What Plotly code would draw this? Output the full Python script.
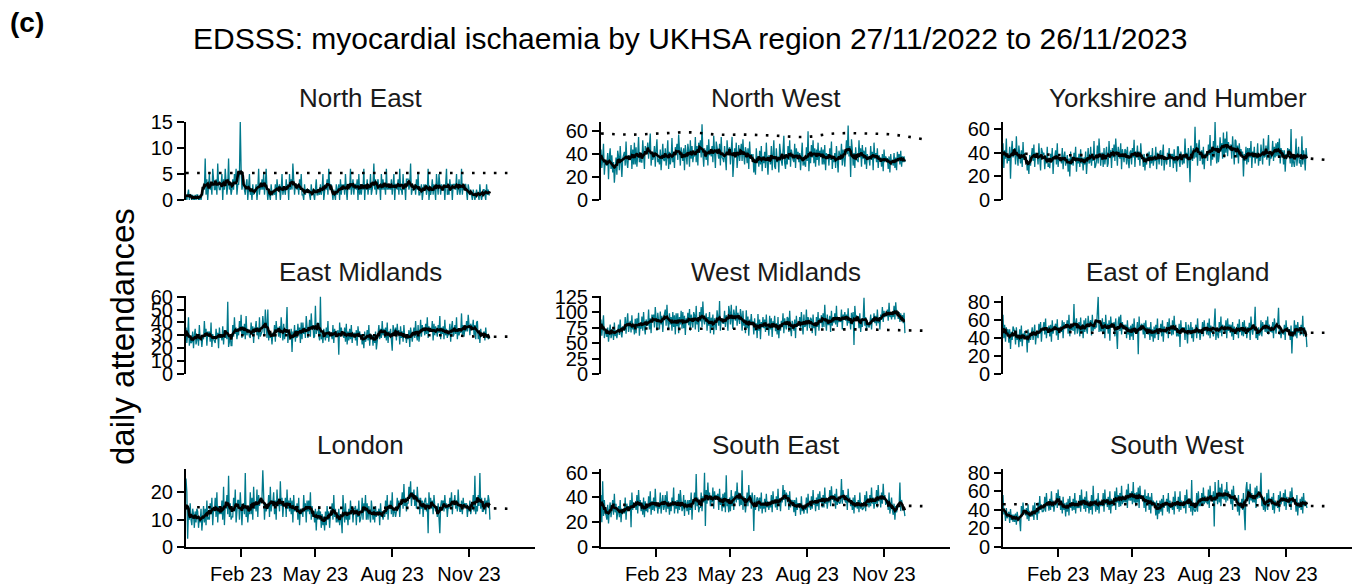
import pandas as pd
import plotly.graph_objects as go

# ---------------- data ----------------
start_date = "2022-11-27"
regions = ["North East", "North West", "Yorkshire and Humber",
           "East Midlands", "West Midlands", "East of England",
           "London", "South East", "South West"]

north_east = [
    1,0,1,2,0,1,1, 0,1,0,0,1,0,1, 1,0,0,1,0,1,1, 3,2,8,1,4,0,2,
    5,2,3,1,6,4,2, 2,4,1,7,3,2,2, 3,5,0,4,2,6,3, 1,3,8,2,3,1,2,
    4,2,5,3,6,1,3, 3,5,15,6,2,3,4, 2,1,3,4,0,2,5, 1,2,0,3,1,2,2,
    3,0,2,6,1,3,2, 4,2,5,1,3,6,2, 0,2,1,0,3,1,1, 2,1,3,0,4,2,2,
    3,0,2,5,1,2,2, 1,4,2,3,0,5,2, 4,2,7,3,1,3,3, 2,3,1,4,2,5,1,
    1,0,3,1,2,2,2, 2,1,0,3,1,2,1, 0,2,4,1,1,2,1, 3,1,2,5,0,2,3,
    2,4,1,6,3,2,3, 1,0,2,1,0,3,1, 2,3,0,4,1,3,2, 3,1,5,2,0,3,3,
    2,6,1,3,4,1,3, 3,2,4,0,5,1,3, 1,3,2,6,0,3,2, 4,1,3,2,5,1,2,
    3,7,2,4,1,3,4, 2,3,0,5,2,4,2, 3,1,6,2,3,2,3, 2,4,1,3,5,0,3,
    3,2,4,1,6,2,2, 1,5,2,3,0,4,4, 4,2,3,7,1,2,2, 2,3,1,4,2,5,1,
    1,2,3,0,2,3,2, 3,1,2,6,0,2,1, 2,4,1,3,2,0,5, 3,1,5,2,1,3,2,
    2,3,0,4,6,1,2, 1,4,2,3,0,3,3, 3,2,5,1,2,4,1, 2,6,1,3,2,3,3,
    1,0,3,2,1,2,1, 0,2,1,0,1,2,1, 1,0,3,1,0,1,2, 2,1,0,3,1,2,1,
    1]

north_west = [
    44,28,36,49,22,33,33, 30,41,18,38,45,27,39, 24,33,15,29,37,22,43, 38,26,47,31,20,36,40,
    42,30,51,33,28,39,36, 35,48,27,44,31,50,31, 46,29,40,55,33,37,33, 33,52,38,27,47,41,42,
    50,36,45,58,30,40,35, 38,47,29,44,53,33,36, 31,44,26,40,49,35,34, 45,30,39,52,27,42,31,
    36,54,33,41,28,46,42, 49,35,57,38,30,46,39, 34,45,26,48,40,31,49, 43,29,52,36,47,33,40,
    38,55,33,47,30,50,41, 52,37,66,41,29,45,38, 35,48,30,53,39,44,38, 47,33,56,40,28,51,46,
    44,36,49,30,55,37,36, 33,47,38,26,52,41,43, 46,31,44,55,20,39,45, 37,50,28,43,48,34,40,
    49,34,53,39,31,46,42, 32,45,27,51,36,40,35, 40,24,36,22,45,33,38, 29,43,31,47,25,38,32,
    42,28,50,33,22,39,38, 31,47,26,40,52,29,27, 45,33,38,24,49,36,34, 30,43,56,32,27,40,31,
    47,35,52,29,44,38,35, 33,49,28,45,36,42,33, 41,26,39,50,30,35,31, 29,46,34,60,25,40,32,
    48,37,52,32,45,29,44, 35,50,30,43,38,46,31, 44,31,48,26,41,36,40, 30,45,35,51,27,38,33,
    41,28,47,33,24,43,36, 35,49,30,44,38,29,41, 52,40,65,38,47,20,53, 44,30,41,28,46,35,35,
    33,52,37,45,29,48,36, 43,31,46,27,40,36,36, 30,47,35,42,26,50,36, 41,33,45,28,39,36,37,
    29,40,25,44,33,38,36, 36,27,38,24,40,31,35, 30,41,28,37,26,42,34, 40,31,43,29,38,33,38,
    33]

yorkshire_humber = [
    48,27,42,35,52,31,38, 33,45,18,41,50,36,43, 44,30,54,37,29,46,33, 31,42,28,49,34,40,35,
    36,25,30,22,38,29,37, 44,33,47,28,40,36,38, 30,48,35,25,44,39,38, 40,26,37,31,45,28,31,
    27,39,33,44,22,36,37, 42,30,48,28,36,33,35, 31,44,26,37,41,29,37, 38,24,35,20,41,30,36,
    29,40,33,45,24,36,31, 39,28,43,31,36,25,36, 30,41,22,38,44,31,32, 45,29,39,33,50,27,29,
    33,46,31,52,36,29,39, 40,28,44,30,37,45,28, 31,50,36,42,27,44,36, 47,33,52,38,29,45,36,
    35,48,26,43,39,32,43, 42,30,45,33,27,40,42, 30,44,36,51,28,41,36, 46,34,41,29,48,37,38,
    28,39,25,36,30,40,33, 41,27,38,31,44,29,35, 33,45,26,40,37,30,41, 42,29,38,47,25,36,35,
    30,40,34,44,28,39,37, 39,27,43,31,36,24,45, 45,33,28,41,37,30,38, 31,52,35,40,27,44,37,
    15,46,38,33,44,35,62, 36,48,29,44,51,33,39, 42,30,45,26,39,36,41, 33,47,38,55,29,44,34,
    50,36,66,40,31,46,32, 38,53,41,48,35,57,36, 52,40,58,37,49,44,42, 47,35,54,41,30,51,50,
    36,46,31,48,38,43,38, 41,20,39,33,45,30,44, 32,44,36,50,27,41,36, 45,31,40,35,48,29,38,
    33,47,38,30,52,36,37, 46,34,43,55,29,38,35, 38,50,33,45,36,48,37, 49,36,52,31,44,40,42,
    30,42,24,39,35,44,38, 43,31,60,28,36,33,28, 35,52,29,40,45,31,34, 28,54,30,42,36,25,44,
    36]

east_midlands = [
    36,24,31,44,22,29,24, 25,33,20,30,35,23,30, 31,22,38,26,29,21,29, 27,41,29,35,22,33,30,
    33,25,40,21,31,27,26, 24,35,28,32,20,36,28, 30,26,37,23,34,28,32, 27,56,21,25,30,22,22,
    38,29,44,31,36,27,33, 30,41,33,46,28,37,30, 39,27,45,30,35,33,29, 28,40,31,37,24,36,35,
    41,30,36,27,44,29,31, 33,45,38,30,50,35,28, 50,26,34,28,31,23,32, 29,38,25,41,33,36,29,
    37,28,44,30,26,39,27, 31,36,52,24,33,28,27, 35,17,33,28,38,25,34, 28,39,30,36,24,40,27,
    40,31,36,28,45,30,28, 33,42,29,47,35,38,28, 29,53,31,36,40,30,26, 60,27,30,24,35,29,26,
    36,28,41,25,33,30,31, 27,38,24,35,30,33,30, 34,15,40,29,36,31,32, 28,36,25,39,23,33,26,
    35,27,38,24,32,29,32, 26,34,22,37,30,33,28, 31,23,29,20,33,25,28, 34,26,38,22,31,29,30,
    22,31,24,33,19,29,31, 38,27,35,28,41,30,35, 28,36,26,40,24,33,30, 35,27,18,38,33,30,36,
    26,39,30,34,23,37,28, 33,25,38,28,31,24,31, 27,34,21,36,29,25,31, 36,28,41,30,26,38,25,
    30,42,29,38,33,36,30, 39,31,44,28,37,33,33, 33,41,26,39,30,37,32, 29,38,32,45,27,36,31,
    37,27,42,30,35,28,32, 30,39,25,36,41,29,31, 38,31,44,27,35,30,33, 32,47,30,38,29,36,33,
    41,33,46,35,30,39,35, 34,42,30,38,27,40,41, 27,33,24,35,29,31,31, 33,26,36,28,31,27,29,
    28]

west_midlands = [
    88,62,79,95,58,70,73, 60,75,52,70,80,58,67, 72,55,83,61,70,58,70, 80,63,88,66,59,77,71,
    70,92,65,84,98,68,76, 86,67,95,72,80,64,89, 66,90,74,99,62,82,73, 93,70,100,76,64,88,83,
    78,104,72,90,66,96,89, 96,75,108,82,70,99,86, 72,101,80,94,68,90,97, 104,78,112,85,73,98,80,
    92,70,100,76,95,64,98, 77,98,66,92,80,102,73, 100,74,94,63,90,82,99, 79,105,70,96,84,75,100,
    95,72,110,80,91,68,100, 85,108,76,117,88,80,90, 98,70,92,78,100,66,91, 75,96,64,90,82,71,103,
    94,78,118,70,90,84,82, 82,102,76,95,88,70,110, 100,80,112,86,73,104,89, 86,110,78,99,92,81,105,
    95,70,102,78,88,66,103, 74,93,62,88,80,97,80, 85,64,90,70,82,58,97, 70,88,56,84,75,92,74,
    88,68,96,72,80,62,94, 72,90,60,85,76,94,69, 82,64,92,58,80,70,86, 76,98,66,90,80,72,92,
    90,68,102,74,61,86,79, 70,88,58,94,76,82,78, 92,70,100,76,64,96,76, 78,104,70,92,86,74,91,
    88,66,96,74,82,62,92, 76,100,70,90,82,95,75, 98,76,112,84,70,96,80, 80,94,68,102,78,90,83,
    98,80,110,76,92,84,90, 84,104,72,96,88,100,86, 96,78,106,82,90,72,99, 80,100,47,110,92,94,93,
    90,74,98,68,86,76,89, 123,78,92,70,84,80,75, 80,96,72,90,84,98,82, 94,78,104,82,90,72,96,
    88,108,84,102,92,98,93, 104,86,115,92,100,88,101, 92,110,88,116,96,102,89, 100,84,98,86,95,82,99,
    66]

east_of_england = [
    66,40,55,36,52,44,50, 35,50,28,47,38,53,50, 47,33,52,38,44,30,50, 36,54,31,45,40,48,40,
    44,24,50,35,46,38,50, 52,38,48,55,33,45,44, 40,56,45,58,36,50,51, 58,44,62,40,52,47,54,
    42,55,36,60,45,52,53, 56,43,61,38,52,47,53, 47,60,40,58,50,55,54, 60,45,66,42,55,49,54,
    48,78,44,56,62,45,52, 58,42,63,46,55,40,60, 47,62,50,45,65,52,57, 60,43,66,48,57,50,54,
    52,70,86,47,55,48,48, 62,46,58,40,66,50,56, 45,60,37,64,52,56,57, 57,42,62,46,28,58,64,
    48,66,44,58,50,55,50, 55,40,60,44,52,38,54, 42,56,38,62,46,50,49, 58,22,64,48,55,56,54,
    44,57,40,60,46,52,44, 52,38,58,42,50,36,53, 40,55,44,62,38,50,47, 56,42,60,36,53,48,48,
    45,58,40,62,48,54,43, 60,44,65,48,55,42,50, 42,56,30,60,46,52,50, 52,38,58,44,34,55,48,
    44,58,40,52,36,50,49, 55,40,62,45,50,38,46, 46,58,42,60,48,52,44, 57,43,62,40,54,46,48,
    42,56,73,38,50,44,40, 58,46,64,42,55,50,49, 46,60,40,62,48,55,46, 55,42,58,38,53,46,51,
    44,56,40,61,47,52,43, 58,42,60,45,53,40,52, 46,57,38,64,50,44,51, 54,75,40,48,38,52,43,
    45,60,42,58,50,55,47, 60,46,64,44,55,48,47, 47,58,40,62,50,45,55, 56,74,44,52,40,50,48,
    44,55,38,60,48,52,46, 50,38,54,23,48,42,60, 42,55,40,58,46,52,43, 55,44,65,42,52,47,45,
    30]

london = [
    25,20,3,14,10,16,10, 8,14,12,7,13,9,14, 13,7,11,9,14,6,10, 15,9,14,8,17,10,11,
    10,16,12,18,8,14,13, 18,11,20,9,15,12,13, 12,17,10,22,8,15,14, 19,12,26,11,16,10,11,
    11,18,13,21,9,16,17, 17,10,20,12,8,15,16, 12,27,11,14,9,13,12, 20,12,18,10,22,14,16,
    13,21,11,19,15,17,16, 18,28,12,10,16,13,15, 14,19,11,22,13,17,16, 20,12,17,10,21,15,17,
    13,24,15,18,11,16,15, 18,11,21,14,17,13,18, 12,17,9,19,13,15,13, 16,10,18,8,14,12,13,
    11,19,13,16,9,17,13, 17,12,20,10,15,11,13, 9,14,6,13,10,15,10, 13,7,12,8,11,6,13,
    8,15,10,13,7,12,12, 16,10,19,11,14,9,12, 9,14,8,12,10,5,19, 14,9,16,10,13,8,14,
    10,17,12,15,9,14,14, 15,8,14,11,17,9,10, 12,18,10,16,13,19,10, 16,10,15,12,9,17,12,
    10,14,9,15,11,13,12, 14,8,16,11,13,10,12, 11,17,12,19,10,15,14, 17,12,20,11,14,13,11,
    13,18,14,17,11,16,16, 20,14,23,15,18,13,16, 16,22,18,24,15,20,18, 21,15,19,14,22,17,18,
    12,18,14,17,11,16,17, 18,13,16,5,20,15,18, 14,17,12,19,15,13,15, 11,16,12,5,15,17,15,
    17,13,19,14,16,11,15, 14,18,15,20,12,17,16, 19,14,17,13,21,15,13, 13,17,12,18,14,16,15,
    16,11,15,13,17,12,14, 14,19,13,26,12,15,13, 19,15,27,14,18,13,13, 14,18,12,17,15,19,17,
    10]

south_east = [
    42,20,53,25,38,27,26, 22,34,19,30,36,24,31, 38,26,43,28,35,22,32, 33,24,38,20,31,27,30,
    27,40,22,35,29,33,31, 38,16,44,30,36,32,35, 30,42,27,46,33,38,29, 36,26,40,24,37,29,32,
    28,41,31,45,26,37,30, 40,29,47,32,36,27,34, 31,44,27,38,42,30,33, 42,28,45,31,37,26,36,
    29,40,33,48,27,37,31, 38,27,43,30,46,32,29, 31,42,25,38,35,29,38, 26,38,30,44,22,36,35,
    44,30,59,33,40,28,32, 32,44,29,41,36,60,17, 46,35,52,38,44,33,39, 36,48,31,45,38,42,40,
    43,30,47,34,40,29,43, 32,44,28,58,33,36,28, 40,29,46,33,41,30,40, 45,36,52,38,44,33,39,
    34,62,30,41,36,28,35, 44,33,50,36,42,31,44, 38,13,42,30,36,40,39, 29,40,31,44,27,36,31,
    39,28,43,32,37,30,36, 32,42,28,45,35,38,32, 41,30,47,33,39,29,40, 36,50,38,46,33,44,40,
    42,30,45,32,38,34,38, 28,38,25,40,30,35,35, 35,26,41,29,34,27,32, 30,40,27,43,32,36,30,
    41,31,46,34,38,29,40, 33,43,30,45,36,40,32, 42,32,48,35,40,31,38, 36,46,33,49,38,42,36,
    43,31,47,34,40,36,35, 37,55,35,46,40,38,36, 42,30,47,36,40,33,38, 30,40,27,42,32,36,31,
    38,28,44,31,36,30,31, 32,42,29,45,34,38,32, 42,33,48,35,40,31,37, 35,46,32,50,37,41,32,
    44,35,51,38,42,34,36, 38,30,44,27,36,40,30, 26,35,22,33,28,31,35, 32,52,29,38,34,30,30,
    25]

south_west = [
    56,35,40,28,42,31,34, 38,26,41,29,35,27,35, 27,36,24,38,30,33,29, 17,44,33,48,36,40,34,
    42,30,46,28,39,33,34, 33,45,29,48,35,40,29, 48,36,55,40,46,38,38, 40,54,38,58,44,49,39,
    52,40,60,43,50,38,46, 45,58,42,62,48,55,40, 50,36,54,40,47,33,48, 38,52,34,55,42,48,39,
    52,40,58,36,50,42,44, 42,56,38,62,45,52,41, 54,38,60,42,50,36,49, 40,56,35,66,44,50,38,
    52,40,58,36,50,44,49, 44,58,38,62,46,52,43, 54,40,60,36,52,44,50, 46,60,40,64,48,56,43,
    58,44,66,46,55,48,54, 48,62,42,68,50,58,50, 60,46,70,48,58,44,59, 48,64,42,66,52,56,50,
    56,42,62,38,55,46,58, 40,54,36,58,44,50,47, 48,34,50,30,46,36,50, 38,52,34,56,42,48,45,
    52,38,58,36,50,42,46, 40,54,35,60,44,48,41, 54,38,60,40,50,44,43, 42,56,36,62,46,52,42,
    52,38,72,34,48,40,38, 40,58,38,60,44,52,44, 58,44,64,46,55,48,49, 46,62,42,66,50,56,49,
    60,22,70,50,58,46,72, 48,64,44,68,52,58,51, 62,48,70,50,60,54,55, 46,62,40,66,50,56,51,
    52,38,56,34,48,42,52, 40,58,36,18,62,70,52, 62,46,68,50,58,48,53, 48,64,42,66,52,60,53,
    58,80,44,50,40,54,38, 44,58,40,62,46,52,48, 54,40,58,36,50,44,47, 42,56,38,60,46,52,49,
    58,44,62,40,54,48,51, 44,60,40,64,48,52,49, 52,38,56,34,48,42,52, 40,54,36,58,44,50,47,
    42]

daily_series = [north_east, north_west, yorkshire_humber, east_midlands,
                west_midlands, east_of_england, london, south_east, south_west]

# dotted baseline: one value every 35 days from the start date
baseline_step = "35D"
baseline_values = [
    [5.2, 5.2, 5.2, 5.2, 5.2, 5.2, 5.2, 5.2, 5.2, 5.2, 5.2, 5.2],
    [58, 57, 58, 59, 57, 57, 56, 55, 58, 58, 57, 53],
    [39, 39, 38, 38, 38, 38, 38, 38, 37, 37, 36, 34],
    [30, 30, 30, 30, 30, 30, 30, 30, 30, 30, 29, 29],
    [74, 74, 73, 73, 73, 73, 73, 72, 72, 72, 71, 70],
    [47, 47, 47, 46, 46, 46, 46, 46, 46, 46, 46, 46],
    [14.5, 14.5, 14.5, 14.5, 14.5, 14.3, 14.3, 14.3, 14.3, 14.2, 14.2, 14],
    [34, 34, 34, 34, 34, 34, 34, 34, 34, 33.8, 33.5, 33],
    [46, 46, 46, 46, 46, 46, 45.5, 45.5, 45, 45, 44.5, 44],
]

y_max = [15, 68, 66, 60.5, 126, 87, 28.5, 63, 84]
y_ticks = [
    [0, 5, 10, 15],
    [0, 20, 40, 60],
    [0, 20, 40, 60],
    [0, 10, 20, 30, 40, 50, 60],
    [0, 25, 50, 75, 100, 125],
    [0, 20, 40, 60, 80],
    [0, 10, 20],
    [0, 20, 40, 60],
    [0, 20, 40, 60, 80],
]
x_tick_dates = ["2023-02-01", "2023-05-01", "2023-08-01", "2023-11-01"]
x_tick_text = ["Feb 23", "May 23", "Aug 23", "Nov 23"]
x_range = ["2022-11-27", "2024-01-19"]

# ---------------- figure ----------------
W, H = 1354, 584
FONT = "Liberation Sans, Arial, sans-serif"
TEAL = "#00798C"
col_px = [(186, 535), (601, 950), (1003, 1352)]
row_px = [(122, 200), (296, 374), (469, 547)]

fig = go.Figure()
layout_axes = {}
annotations = []

for i, name in enumerate(regions):
    r, c = divmod(i, 3)
    xs = "x" if i == 0 else f"x{i+1}"
    ys = "y" if i == 0 else f"y{i+1}"
    vals = pd.Series(daily_series[i], dtype=float)
    dates = pd.date_range(start_date, periods=len(vals), freq="D")
    smooth = vals.rolling(7, center=True, min_periods=1).mean()
    bdates = pd.date_range(start_date, periods=len(baseline_values[i]), freq=baseline_step)

    fig.add_trace(go.Scatter(x=dates, y=vals, mode="lines",
                             line=dict(color=TEAL, width=1.3),
                             xaxis=xs, yaxis=ys, showlegend=False, hoverinfo="skip"))
    fig.add_trace(go.Scatter(x=bdates, y=baseline_values[i], mode="lines",
                             line=dict(color="black", width=2.6, dash="2.6px,8.4px"),
                             line_shape="spline",
                             xaxis=xs, yaxis=ys, showlegend=False, hoverinfo="skip"))
    fig.add_trace(go.Scatter(x=dates, y=smooth, mode="lines",
                             line=dict(color="black", width=2.6),
                             xaxis=xs, yaxis=ys, showlegend=False, hoverinfo="skip"))

    x0, x1 = col_px[c]
    y0, y1 = row_px[r]
    bottom = (r == 2)
    layout_axes["xaxis" if i == 0 else f"xaxis{i+1}"] = dict(
        domain=[x0 / W, x1 / W], anchor=ys, range=x_range, type="date",
        automargin=False, showgrid=False, zeroline=False,
        showline=bottom, linecolor="black", linewidth=2,
        ticks="outside" if bottom else "", ticklen=8, tickwidth=2, tickcolor="black",
        tickvals=x_tick_dates, ticktext=x_tick_text, showticklabels=bottom,
        tickfont=dict(size=20, color="black", family=FONT),
    )
    layout_axes["yaxis" if i == 0 else f"yaxis{i+1}"] = dict(
        domain=[1 - y1 / H, 1 - y0 / H], anchor=xs, range=[0, y_max[i]],
        automargin=False, showgrid=False, zeroline=False,
        showline=True, linecolor="black", linewidth=2,
        ticks="outside", ticklen=7, tickwidth=2, tickcolor="black",
        tickvals=y_ticks[i], ticktext=[str(v) for v in y_ticks[i]],
        tickfont=dict(size=20, color="black", family=FONT),
    )
    annotations.append(dict(
        text=name, x=(x0 + x1) / 2 / W, y=1 - (y0 - 24) / H,
        xref="paper", yref="paper", xanchor="center", yanchor="middle",
        showarrow=False, font=dict(size=26, color="#1a1a1a", family=FONT)))

annotations.append(dict(
    text="EDSSS: myocardial ischaemia by UKHSA region 27/11/2022 to 26/11/2023",
    x=690 / W, y=1 - 39 / H, xref="paper", yref="paper",
    xanchor="center", yanchor="middle", showarrow=False,
    font=dict(size=30, color="black", family=FONT)))
annotations.append(dict(
    text="<b>(c)</b>", x=8 / W, y=1 - 22 / H, xref="paper", yref="paper",
    xanchor="left", yanchor="middle", showarrow=False,
    font=dict(size=28, color="black", family=FONT)))
annotations.append(dict(
    text="daily attendances", x=122 / W, y=1 - 337 / H, xref="paper", yref="paper",
    xanchor="center", yanchor="middle", textangle=-90, showarrow=False,
    font=dict(size=33, color="black", family=FONT)))

fig.update_layout(
    template="none",
    width=W, height=H, autosize=False,
    margin=dict(l=0, r=0, t=0, b=0, pad=0, autoexpand=False),
    paper_bgcolor="white", plot_bgcolor="white",
    font=dict(family=FONT, color="black"),
    annotations=annotations,
    **layout_axes,
)

fig.write_html("out.html", config={"displayModeBar": False},
               post_script="document.body.style.margin='0';")
